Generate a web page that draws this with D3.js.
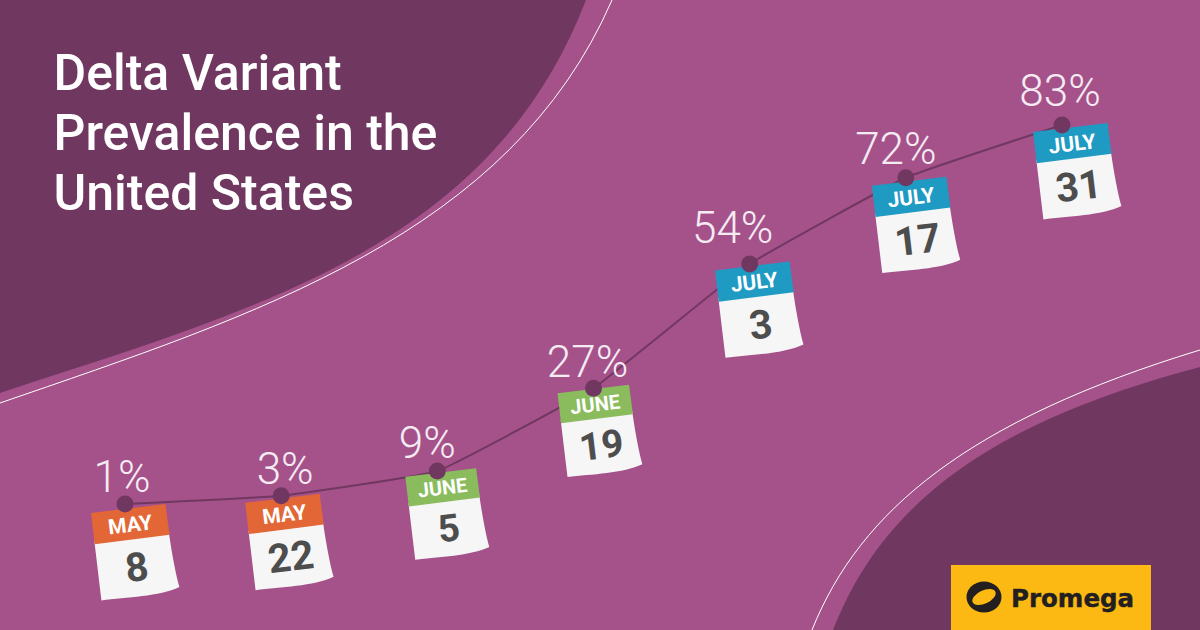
<!DOCTYPE html>
<html>
<head>
<meta charset="utf-8">
<script src="https://cdn.jsdelivr.net/npm/d3@7"></script>
<style>
  html, body { margin: 0; padding: 0; background: #a5528b; }
  svg { display: block; }
</style>
</head>
<body>
<div id="chart"></div>
<script>
// values
const dates = ["2021-05-08", "2021-05-22", "2021-06-05", "2021-06-19", "2021-07-03", "2021-07-17", "2021-07-31"];
const prevalence = [1, 3, 9, 27, 54, 72, 83];
const months = ["MAY", "MAY", "JUNE", "JUNE", "JULY", "JULY", "JULY"];
const days = ["8", "22", "5", "19", "3", "17", "31"];
const titleLines = ["Delta Variant", "Prevalence in the", "United States"];

const width = 1200, height = 630;
const monthColor = { MAY: "#e26636", JUNE: "#8abb5d", JULY: "#1f9ac3" };
const dark = "#703861";

// label nudges, label by label
const labelDx = [-3, 4, -10, -6, -17, -10, -2];
const labelDy = [-12, -12, -13, -11, -21, -14, -19];

// each calendar hangs a little differently from its pin
const leafDx = [-34, -36, -32, -36, -34.6, -34, -29];
const leafDy = [9, 7, 5.7, 5, 6.4, 8, 7];
const leafScale = [1, 1, 0.95, 0.96, 1, 1, 1];

const parse = d3.timeParse("%Y-%m-%d");
const rows = dates.map((d, i) => ({
    date: parse(d), value: prevalence[i], month: months[i], day: days[i],
    dx: labelDx[i], dy: labelDy[i], lx: leafDx[i], ly: leafDy[i], ls: leafScale[i]
}));

const x = d3.scaleTime().domain(d3.extent(rows, d => d.date)).range([125, 1062]);
const y = d3.scaleLinear().domain([1, 9, 54, 83]).range([504, 471, 264, 125]);

const svg = d3.select("#chart").append("svg")
    .attr("width", width)
    .attr("height", height);

svg.append("rect").attr("width", width).attr("height", height).attr("fill", "#a5528b");

// background swooshes
svg.append("path").attr("fill", dark)
    .attr("d", "M0,393 C250,310 490,250 586,0 L0,0 Z");
svg.append("path").attr("fill", "none").attr("stroke", "#fff").attr("stroke-width", 1)
    .attr("d", "M0,403 C255,315 510,235 612,0");
svg.append("path").attr("fill", dark)
    .attr("d", "M833,630 C880,510 980,425 1200,367 L1200,630 Z");
svg.append("path").attr("fill", "none").attr("stroke", "#fff").attr("stroke-width", 1)
    .attr("d", "M812,630 C860,510 970,420 1200,350");

// title
svg.append("g").selectAll("text")
    .data(titleLines)
    .enter()
    .append("text")
    .attr("x", 53.5)
    .attr("y", (d, i) => 89.5 + i * 60)
    .attr("fill", "#fff")
    .style("font-family", "Roboto")
    .style("font-weight", 500)
    .style("font-size", "50px")
    .text(d => d);

// trend line
const line = d3.line()
    .x(d => x(d.date))
    .y(d => y(d.value))
    .curve(d3.curveCardinal.tension(0.7));

svg.append("path")
    .datum(rows)
    .attr("d", line)
    .attr("fill", "none")
    .attr("stroke", dark)
    .attr("stroke-width", 2);

// one calendar leaf per date, hung from its point
const leaf = svg.append("g").selectAll("g")
    .data(rows)
    .enter()
    .append("g")
    .attr("transform", d => "translate(" + (x(d.date) + d.lx) + "," + (y(d.value) + d.ly) + ") rotate(-6.8) scale(" + d.ls + ")");

leaf.append("path")
    .attr("fill", "#f6f6f6")
    .attr("d", "M0,28 L75,28 C75.5,50 77,72 79,84 C58,91 25,88 0,88 Z");
leaf.append("path")
    .attr("fill", d => monthColor[d.month])
    .attr("d", "M0,0 L75,0 L75.4,31 L0,31.5 Z");

leaf.append("text")
    .attr("x", 37.5)
    .attr("y", 23.5)
    .attr("text-anchor", "middle")
    .attr("fill", "#fff")
    .style("font-family", "Roboto")
    .style("font-weight", 700)
    .style("font-size", "21px")
    .text(d => d.month);

leaf.append("text")
    .attr("x", 39)
    .attr("y", 73)
    .attr("text-anchor", "middle")
    .attr("fill", "#4d4d4d")
    .style("font-family", "Roboto")
    .style("font-weight", 700)
    .style("font-size", "40px")
    .text(d => d.day);

// pins
svg.append("g").selectAll("circle")
    .data(rows)
    .enter()
    .append("circle")
    .attr("cx", d => x(d.date))
    .attr("cy", d => y(d.value))
    .attr("r", 8.5)
    .attr("fill", dark);

// percent labels
svg.append("g").selectAll("text")
    .data(rows)
    .enter()
    .append("text")
    .attr("x", d => x(d.date) + d.dx)
    .attr("y", d => y(d.value) + d.dy)
    .attr("text-anchor", "middle")
    .attr("fill", "#f5ebf2")
    .style("font-family", "Roboto")
    .style("font-weight", 300)
    .style("font-size", "44px")
    .text(d => d.value + "%");

// logo
const logo = svg.append("g");
logo.append("rect").attr("x", 951).attr("y", 565).attr("width", 200).attr("height", 65).attr("fill", "#fdb913");
logo.append("ellipse").attr("cx", 984).attr("cy", 597).attr("rx", 17.5).attr("ry", 15.5)
    .attr("fill", "#231f20");
logo.append("ellipse").attr("cx", 984).attr("cy", 597).attr("rx", 12.5).attr("ry", 6.5)
    .attr("transform", "rotate(-25 984 597)")
    .attr("fill", "#fdb913");
logo.append("text")
    .attr("x", 1011)
    .attr("y", 606.5)
    .attr("fill", "#231f20")
    .attr("stroke", "#231f20")
    .attr("stroke-width", 0.4)
    .style("font-family", "'DejaVu Sans'")
    .style("font-weight", 700)
    .style("font-size", "24.5px")
    .text("Promega");
</script>
</body>
</html>
